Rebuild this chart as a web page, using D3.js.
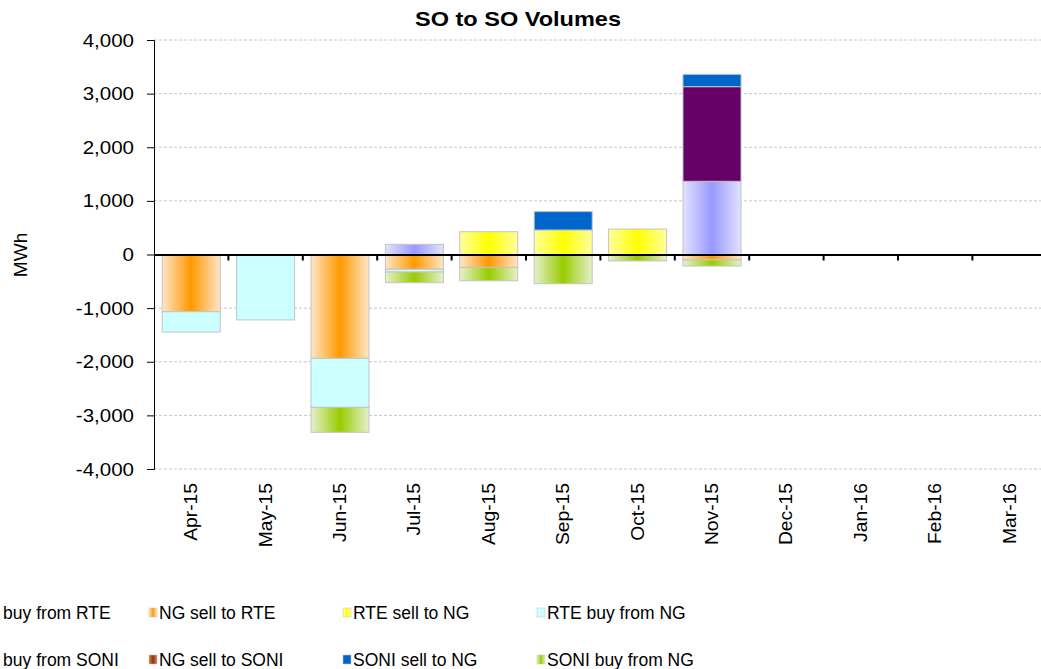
<!DOCTYPE html>
<html>
<head>
<meta charset="utf-8">
<script src="https://cdn.jsdelivr.net/npm/d3@7"></script>
<style>
  body { margin: 0; background: #fff; }
  svg { display: block; font-family: "Liberation Sans", Arial, sans-serif; }
</style>
</head>
<body>
<svg width="1041" height="669"></svg>
<script>
const months = ['Apr-15', 'May-15', 'Jun-15', 'Jul-15', 'Aug-15', 'Sep-15', 'Oct-15', 'Nov-15', 'Dec-15', 'Jan-16', 'Feb-16', 'Mar-16'];

// series values (MWh)
const ngBuyRTE   = [0, 0, 0, 190, 0, 0, 0, 1365, 0, 0, 0, 0];
const ngSellRTE  = [-1067, -20, -1936, -276, -240, 0, 0, -100, 0, 0, 0, 0];
const rteSellNG  = [0, 0, 0, 0, 425, 457, 475, 0, 0, 0, 0, 0];
const rteBuyNG   = [-378, -1200, -914, -50, 0, 0, 0, 0, 0, 0, 0, 0];
const ngBuySONI  = [0, 0, 0, 0, 0, 0, 0, 1765, 0, 0, 0, 0];
const ngSellSONI = [0, 0, 0, 0, 0, 0, 0, 0, 0, 0, 0, 0];
const soniSellNG = [0, 0, 0, 0, 0, 343, 0, 230, 0, 0, 0, 0];
const soniBuyNG  = [0, 0, -466, -200, -250, -545, -120, -115, 0, 0, 0, 0];

const seriesNames = ['NG buy from RTE', 'NG sell to RTE', 'RTE sell to NG', 'RTE buy from NG',
                     'NG buy from SONI', 'NG sell to SONI', 'SONI sell to NG', 'SONI buy from NG'];
const seriesValues = [ngBuyRTE, ngSellRTE, rteSellNG, rteBuyNG, ngBuySONI, ngSellSONI, soniSellNG, soniBuyNG];
const yTicks = [-4000, -3000, -2000, -1000, 0, 1000, 2000, 3000, 4000];

// colour of each series: [edge, centre] (same = solid)
const fills = [
  ['#e2e2ff', '#9999ff'],
  ['#ffe6c8', '#ff9900'],
  ['#ffff9e', '#ffff00'],
  ['#ccffff', '#ccffff'],
  ['#660066', '#660066'],
  ['#c8825a', '#993300'],
  ['#0066cc', '#0066cc'],
  ['#e6f0cc', '#99cc00']
];

const table = months.map((m, i) => {
  const row = {month: m};
  seriesNames.forEach((s, j) => row[s] = seriesValues[j][i]);
  return row;
});

// the original's lettering is a bit wider than Arial; stretch each text by k
function stretch(sel, k) {
  sel.each(function () {
    const w = this.getComputedTextLength();
    d3.select(this).attr('textLength', w * k).attr('lengthAdjust', 'spacingAndGlyphs');
  });
}

const svg = d3.select('svg');
const defs = svg.append('defs');
fills.forEach((f, i) => {
  const g = defs.append('linearGradient').attr('id', 'g' + i)
    .attr('x1', 0).attr('x2', 1).attr('y1', 0).attr('y2', 0);
  g.append('stop').attr('offset', 0).attr('stop-color', f[0]);
  g.append('stop').attr('offset', 0.5).attr('stop-color', f[1]);
  g.append('stop').attr('offset', 1).attr('stop-color', f[0]);
});

const plotLeft = 154, plotTop = 40, plotBottom = 469;
const x = d3.scaleBand().domain(months).range([plotLeft, plotLeft + 12 * 74.4]).paddingInner(0.22).paddingOuter(0.11);
const y = d3.scaleLinear().domain([-4000, 4000]).range([plotBottom, plotTop]);

// title
svg.append('text').attr('x', 518).attr('y', 26).attr('text-anchor', 'middle')
  .style('font-size', '21px').style('font-weight', 'bold').text('SO to SO Volumes')
  .call(stretch, 1.12);

// gridlines
svg.append('g').selectAll('line').data(yTicks.filter(d => d !== 0)).enter().append('line')
  .attr('x1', plotLeft).attr('x2', 1041).attr('y1', d => y(d)).attr('y2', d => y(d))
  .attr('stroke', '#c8c8c8').attr('stroke-dasharray', '3,2').attr('stroke-width', 1);

// y axis
const fmt = d3.format(',');
const yAxis = svg.append('g').attr('transform', `translate(${plotLeft},0)`)
  .call(d3.axisLeft(y).tickValues(yTicks).tickFormat(d => fmt(d).replace('−', '-')).tickSize(7).tickPadding(13));
yAxis.select('.domain').attr('stroke', '#000');
yAxis.selectAll('.tick line').attr('stroke', '#000');
yAxis.selectAll('text').style('font-size', '19px').style('font-family', '"Liberation Sans", Arial, sans-serif')
  .attr('fill', '#000').call(stretch, 1.08);

svg.append('text').attr('transform', 'translate(27,255) rotate(-90)').attr('text-anchor', 'middle')
  .style('font-size', '18px').text('MWh').call(stretch, 1.06);

// stacked bars
const stack = d3.stack().keys(seriesNames).offset(d3.stackOffsetDiverging);
const layers = stack(table);
svg.append('g').selectAll('g').data(layers).enter().append('g')
  .attr('fill', (d, i) => `url(#g${i})`)
  .selectAll('rect').data(d => d.filter(p => p[1] !== p[0])).enter().append('rect')
  .attr('x', d => x(d.data.month))
  .attr('width', x.bandwidth())
  .attr('y', d => y(Math.max(d[0], d[1])))
  .attr('height', d => Math.abs(y(d[0]) - y(d[1])))
  .attr('stroke', '#c4c4c4').attr('stroke-width', 1);

// x axis along zero
const xAxis = svg.append('g').attr('transform', `translate(0,${y(0)})`)
  .call(d3.axisBottom(x).tickSize(0).tickFormat(''));
xAxis.select('.domain').attr('stroke', '#000').attr('stroke-width', 2);
const step = x.step();
svg.append('g').selectAll('line').data(months).enter().append('line')
  .attr('x1', (d, i) => plotLeft + (i + 1) * step).attr('x2', (d, i) => plotLeft + (i + 1) * step)
  .attr('y1', y(0)).attr('y2', y(0) + 6).attr('stroke', '#000').attr('stroke-width', 2);

// month labels
svg.append('g').selectAll('text').data(months).enter().append('text')
  .attr('transform', d => `translate(${x(d) + x.bandwidth() / 2 + 6},483) rotate(-90)`)
  .attr('text-anchor', 'end').style('font-size', '18px').text(d => d)
  .call(stretch, 1.07);

// legend (clipped on the left like the original)
const legendX = [-38, 149, 343, 537];
const legendY = [619, 666];
const legend = svg.append('g');
seriesNames.forEach((s, i) => {
  const lx = legendX[i % 4], ly = legendY[Math.floor(i / 4)];
  legend.append('rect').attr('x', lx).attr('y', ly - 11).attr('width', 8).attr('height', 9)
    .attr('fill', `url(#g${i})`).attr('stroke', '#c4c4c4').attr('stroke-width', 0.5);
  legend.append('text').attr('x', lx + 10).attr('y', ly).style('font-size', '17.5px').text(s);
});
</script>
</body>
</html>
